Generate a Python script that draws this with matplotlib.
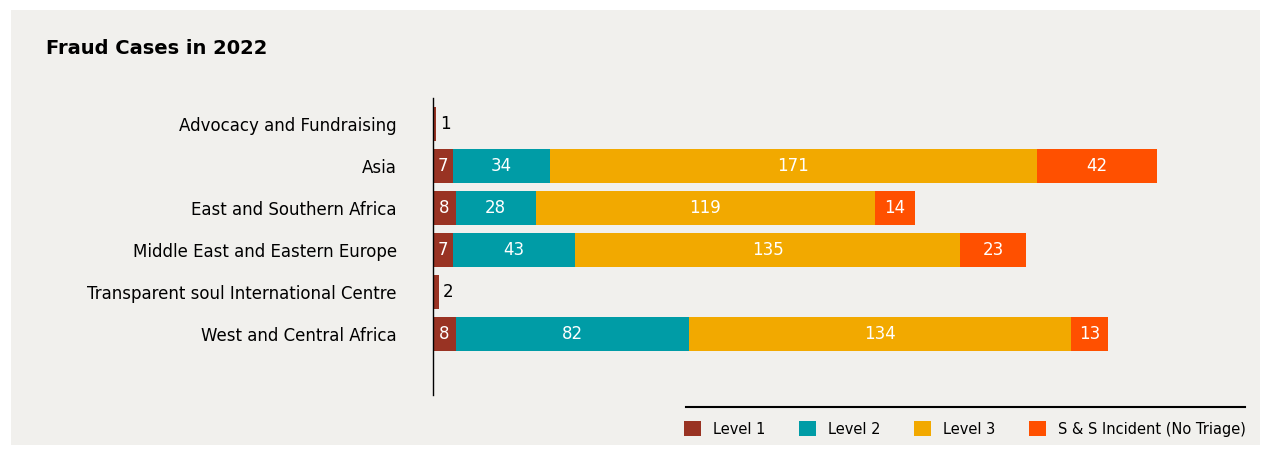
import matplotlib.pyplot as plt
import numpy as np
from matplotlib.patches import Rectangle
from matplotlib.lines import Line2D

regions = [
    "Advocacy and Fundraising",
    "Asia",
    "East and Southern Africa",
    "Middle East and Eastern Europe",
    "Transparent soul International Centre",
    "West and Central Africa",
]
levels = ["Level 1", "Level 2", "Level 3", "S & S Incident (No Triage)"]
level_1 = [1, 7, 8, 7, 2, 8]
level_2 = [0, 34, 28, 43, 0, 82]
level_3 = [0, 171, 119, 135, 0, 134]
ss_incident = [0, 42, 14, 23, 0, 13]

colors = ["#993323", "#009CA6", "#F2A900", "#FF5000"]

fig = plt.figure(figsize=(12.65, 4.49), dpi=100)
fig.patch.set_facecolor("white")
# grey panel behind everything
fig.add_artist(Rectangle((11 / 1265, 4 / 449), 1249 / 1265, 435 / 449,
                         transform=fig.transFigure, facecolor="#F1F0ED",
                         edgecolor="none", zorder=-10))

ax = fig.add_axes([433 / 1265, 54 / 449, 827 / 1265, 297 / 449])
ax.set_facecolor("none")

y = np.arange(len(regions))
left = np.zeros(len(regions))
bars = []
for name, vals, col in zip(levels, [level_1, level_2, level_3, ss_incident], colors):
    vals = np.array(vals)
    b = ax.barh(y, vals, left=left, height=0.8, color=col, label=name)
    bars.append(b)
    for yi, v, l in zip(y, vals, left):
        if v == 0:
            continue
        if v < 3:
            ax.text(l + v + 1.5, yi, str(v), ha="left", va="center",
                    fontsize=12, color="black")
        else:
            ax.text(l + v / 2, yi, str(v), ha="center", va="center",
                    fontsize=12, color="white")
    left = left + vals

ax.set_xlim(0, 290.2)
ax.set_ylim(6.45, -0.62)
ax.set_yticks(y)
ax.set_yticklabels(regions, fontsize=12)
ax.tick_params(axis="y", length=0, pad=26)
ax.set_xticks([])
for side in ["top", "right", "bottom"]:
    ax.spines[side].set_visible(False)
ax.spines["left"].set_linewidth(1)

fig.text(46 / 1265, 1 - 48 / 449, "Fraud Cases in 2022", fontsize=14,
         fontweight="bold", ha="left", va="center")

fig.add_artist(Line2D([686 / 1265, 1245 / 1265], [1 - 407 / 449, 1 - 407 / 449],
                      transform=fig.transFigure, color="black", linewidth=1.5))
fig.legend(handles=bars, labels=levels, loc="center right",
           bbox_to_anchor=(1259 / 1265, 1 - 429 / 449), ncol=4, frameon=False,
           fontsize=10.5, handlelength=1.2, handleheight=1.2, handletextpad=0.8,
           columnspacing=2.3)

plt.savefig("out.png", dpi=100)
